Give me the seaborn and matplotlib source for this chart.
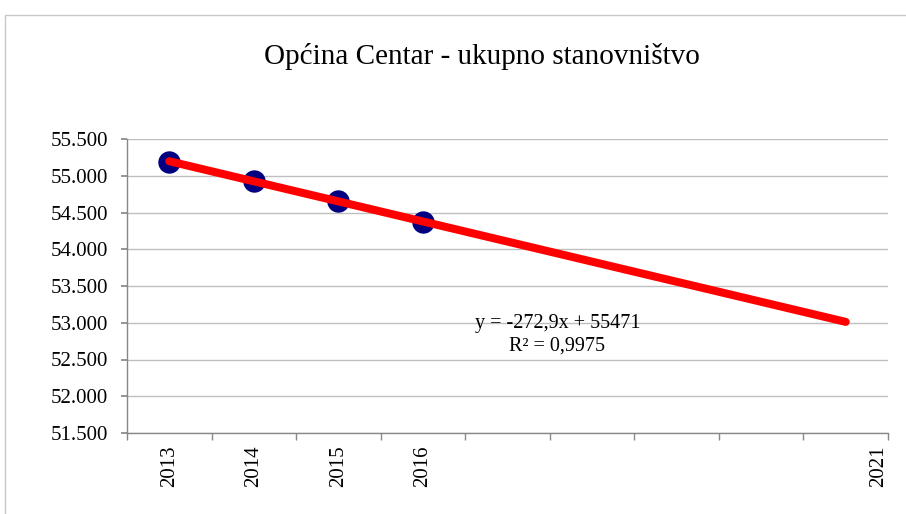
import numpy as np
import pandas as pd
import matplotlib
matplotlib.use("Agg")
import matplotlib.pyplot as plt
from matplotlib.patches import Rectangle
import seaborn as sns

# Data
categories = ["2013", "2014", "2015", "2016", "", "", "", "", "2021"]
years = ["2013", "2014", "2015", "2016"]
population = [55187, 54935, 54660, 54368]
y_ticks = [51500, 52000, 52500, 53000, 53500, 54000, 54500, 55000, 55500]
y_tick_labels = ["51.500", "52.000", "52.500", "53.000", "53.500",
                 "54.000", "54.500", "55.000", "55.500"]
title = "Općina Centar - ukupno stanovništvo"
equation = "y = -272,9x + 55471\nR² = 0,9975"

sns.set_theme(style="white")
plt.rcParams["font.family"] = ["Liberation Serif", "DejaVu Serif"]

W, H = 906, 514
fig = plt.figure(figsize=(W / 100, H / 100), dpi=100)
left, right, top, bottom = 127, 888, 139, 433
ax = fig.add_axes([left / W, 1 - bottom / H, (right - left) / W, (bottom - top) / H])

# chart border
fig.patches.append(Rectangle((5 / W, -0.1), 1.2, 1 - 15 / H + 0.1, transform=fig.transFigure,
                             fill=False, edgecolor="#c8c8c8", linewidth=1.0, zorder=0))

# trend line from linear fit, extended over all categories
x_fit = np.arange(1, len(population) + 1)
slope, intercept = np.polyfit(x_fit, population, 1)
x_all = np.arange(1, len(categories) + 1)
trend = pd.DataFrame({"x": x_all - 1, "y": slope * x_all + intercept})
trend = trend.iloc[[0, -1]]

df = pd.DataFrame({"x": np.arange(len(years)), "y": population})
sns.scatterplot(data=df, x="x", y="y", ax=ax, color="#000080", s=260,
                edgecolor="#000080", linewidth=0, zorder=3)
sns.lineplot(data=trend, x="x", y="y", ax=ax, color="#ff0000", linewidth=5.8,
             solid_capstyle="round", zorder=4)

ax.set_xlim(-0.5, len(categories) - 0.5)
ax.set_ylim(y_ticks[0], y_ticks[-1])

# y axis
ax.set_yticks(y_ticks)
ax.set_yticklabels(y_tick_labels, fontsize=15, color="black")
ax.yaxis.grid(True, color="#bfbfbf", linewidth=1.0)
ax.set_axisbelow(True)
ax.tick_params(axis="y", which="major", left=True, length=4.3, color="#888888", pad=9.4)

# x axis: labels at category centers, tick marks at boundaries
label_pos = [i for i, c in enumerate(categories) if c]
label_pos = [p if p < len(categories) - 1 else p + 0.39 for p in label_pos]
ax.set_xticks(label_pos)
ax.set_xticklabels([c for c in categories if c], rotation=90, fontsize=15, color="black")
ax.tick_params(axis="x", which="major", bottom=False, length=0, pad=9)
ax.set_xticks(np.arange(-0.5, len(categories)), minor=True)
ax.tick_params(axis="x", which="minor", bottom=True, length=5, color="#888888")

for s in ["top", "right"]:
    ax.spines[s].set_visible(False)
for s in ["left", "bottom"]:
    ax.spines[s].set_color("#888888")
    ax.spines[s].set_linewidth(1.0)

ax.set_xlabel("")
ax.set_ylabel("")

ax.text(4.59, 52836, equation, ha="center", va="center", fontsize=14.5,
        color="black", linespacing=1.2, zorder=5)

fig.text(482 / W, 1 - 57 / H, title, ha="center", va="center", fontsize=21, color="black")

fig.savefig("out.png", dpi=100, facecolor="white")
